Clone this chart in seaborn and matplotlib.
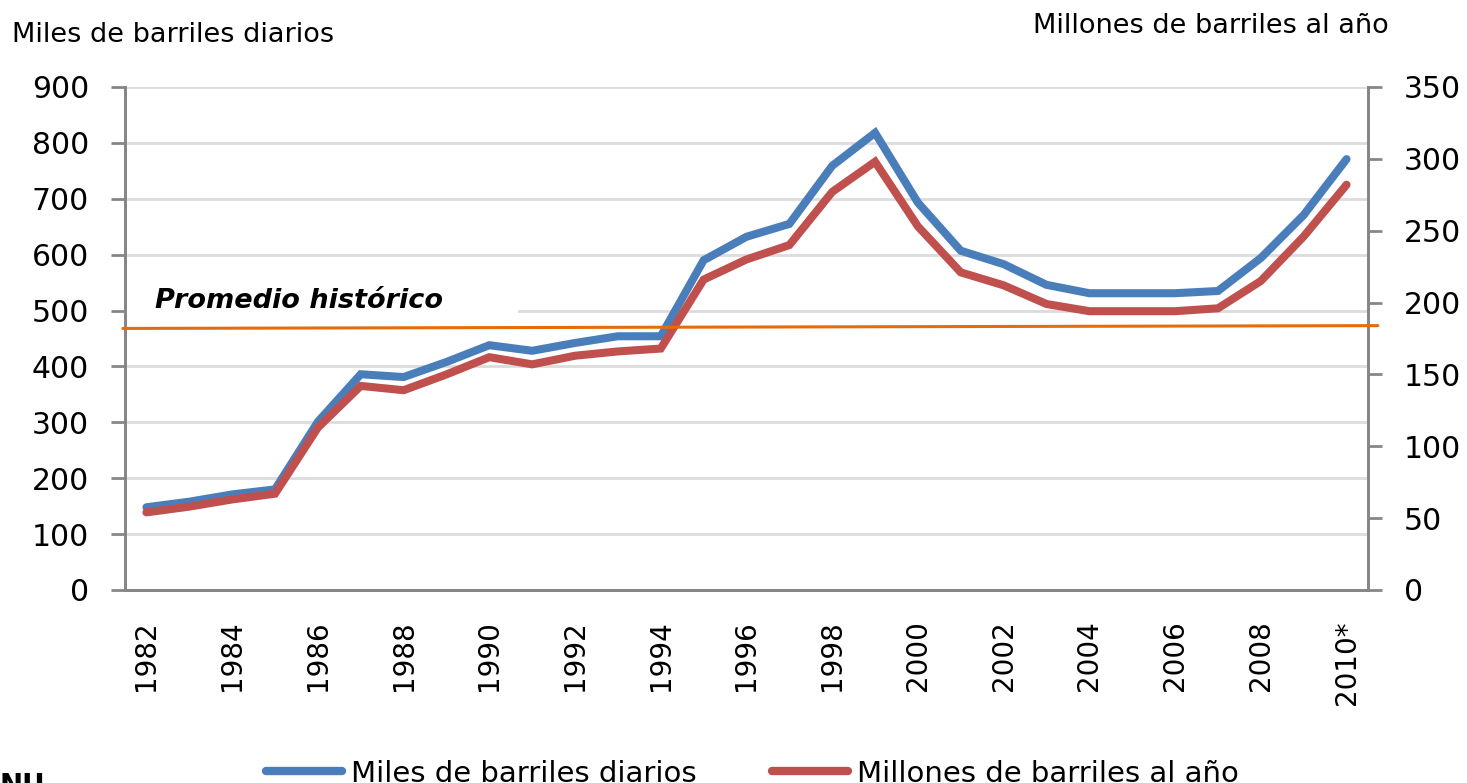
import matplotlib
matplotlib.use("Agg")
import matplotlib.pyplot as plt
from matplotlib.patches import Rectangle
from matplotlib.lines import Line2D
import seaborn as sns
import pandas as pd

anios = ['1982', '1983', '1984', '1985', '1986', '1987', '1988', '1989', '1990',
         '1991', '1992', '1993', '1994', '1995', '1996', '1997', '1998', '1999',
         '2000', '2001', '2002', '2003', '2004', '2005', '2006', '2007', '2008',
         '2009', '2010*']
miles_diarios = [148, 158, 171, 180, 301, 386, 381, 408, 438, 428, 442, 454, 454,
                 590, 632, 655, 759, 818, 693, 607, 583, 546, 531, 531, 531, 535,
                 594, 671, 771]
millones_anio = [54, 58, 63, 67, 113, 142, 139, 150, 162, 157, 163, 166, 168,
                 216, 230, 240, 277, 298, 253, 221, 212, 199, 194, 194, 194, 196,
                 215, 246, 282]
promedio = [468, 473]  # promedio historico (extremos izq/der)

AZUL = '#4A7EBB'
ROJO = '#C0504D'
NARANJA = '#E46C0A'
GRIS = '#868686'

sns.set_style("white")
plt.rcParams['font.family'] = ['DejaVu Sans']
plt.rcParams['text.color'] = 'black'
plt.rcParams['xtick.labelcolor'] = 'black'
plt.rcParams['ytick.labelcolor'] = 'black'

df = pd.DataFrame({'pos': range(len(anios)), 'anio': anios,
                   'miles': miles_diarios, 'millones': millones_anio})

fig = plt.figure(figsize=(14.67, 7.83), dpi=100)
ax = fig.add_axes([0.0852, 0.2465, 0.8473, 0.6424])
ax2 = ax.twinx()

# series
sns.lineplot(data=df, x='pos', y='miles', ax=ax, color=AZUL, linewidth=5.8,
             solid_joinstyle='miter', zorder=3)
sns.lineplot(data=df, x='pos', y='millones', ax=ax2, color=ROJO, linewidth=5.8,
             solid_joinstyle='miter', zorder=3)

# linea de promedio historico (en unidades del eje izquierdo)
ax2.plot([-0.55, len(anios) - 0.27], promedio, color=NARANJA, linewidth=2.2,
         transform=ax.transData, clip_on=False, zorder=5)

ax.set_xlim(-0.5, len(anios) - 0.5)
ax.set_ylim(0, 900)
ax2.set_ylim(0, 350)
ax.set_yticks(range(0, 901, 100))
ax2.set_yticks(range(0, 351, 50))

ax.set_xticks(range(0, len(anios), 2))
ax.set_xticklabels(anios[::2], rotation=90, fontsize=20)
ax.set_xticks([i - 0.5 for i in range(len(anios) + 1)], minor=True)
ax.tick_params(axis='x', which='major', length=0, pad=22, labelcolor='black')
ax.tick_params(axis='x', which='minor', length=9, width=2, color=GRIS, direction='out')
ax.tick_params(axis='y', length=10, width=2, color=GRIS, labelsize=21.5, pad=16,
               direction='out', left=True, labelcolor='black')
ax2.tick_params(axis='y', length=10, width=2, color=GRIS, labelsize=21.5, pad=16,
                direction='out', right=True, labelcolor='black')

ax.set_xlabel('')
ax.set_ylabel('')
ax2.set_ylabel('')

ax.grid(axis='y', color='#DCDCDC', linewidth=2)
ax.set_axisbelow(True)

for a in (ax, ax2):
    a.spines['top'].set_visible(False)
    for s in ('left', 'right', 'bottom'):
        a.spines[s].set_color(GRIS)
        a.spines[s].set_linewidth(2)

# cuadro blanco tras la etiqueta
ax.add_patch(Rectangle((-0.5, 488), 9.17, 106, facecolor='white',
                       edgecolor='none', zorder=1))
ax.text(0.2, 505, 'Promedio histórico', fontsize=19.5, fontweight='bold',
        fontstyle='italic', va='baseline', ha='left', zorder=2, color='black')

fig.text(0.008, 0.946, 'Miles de barriles diarios', fontsize=19.5,
         va='baseline', color='black')
fig.text(0.947, 0.958, 'Millones de barriles al año', fontsize=19.5,
         va='baseline', ha='right', color='black')
fig.text(0.0, 0.014, 'NU', fontsize=20, fontweight='bold', va='top', color='black')

handles = [Line2D([], [], color=AZUL, linewidth=6, solid_capstyle='round'),
           Line2D([], [], color=ROJO, linewidth=6, solid_capstyle='round')]
fig.legend(handles, ['Miles de barriles diarios', 'Millones de barriles al año'],
           loc='center', bbox_to_anchor=(0.513, 0.012), ncol=2, frameon=False,
           fontsize=21, handlelength=2.6, handletextpad=0.3, columnspacing=2.6,
           labelcolor='black')

fig.savefig('out.png', dpi=100)
